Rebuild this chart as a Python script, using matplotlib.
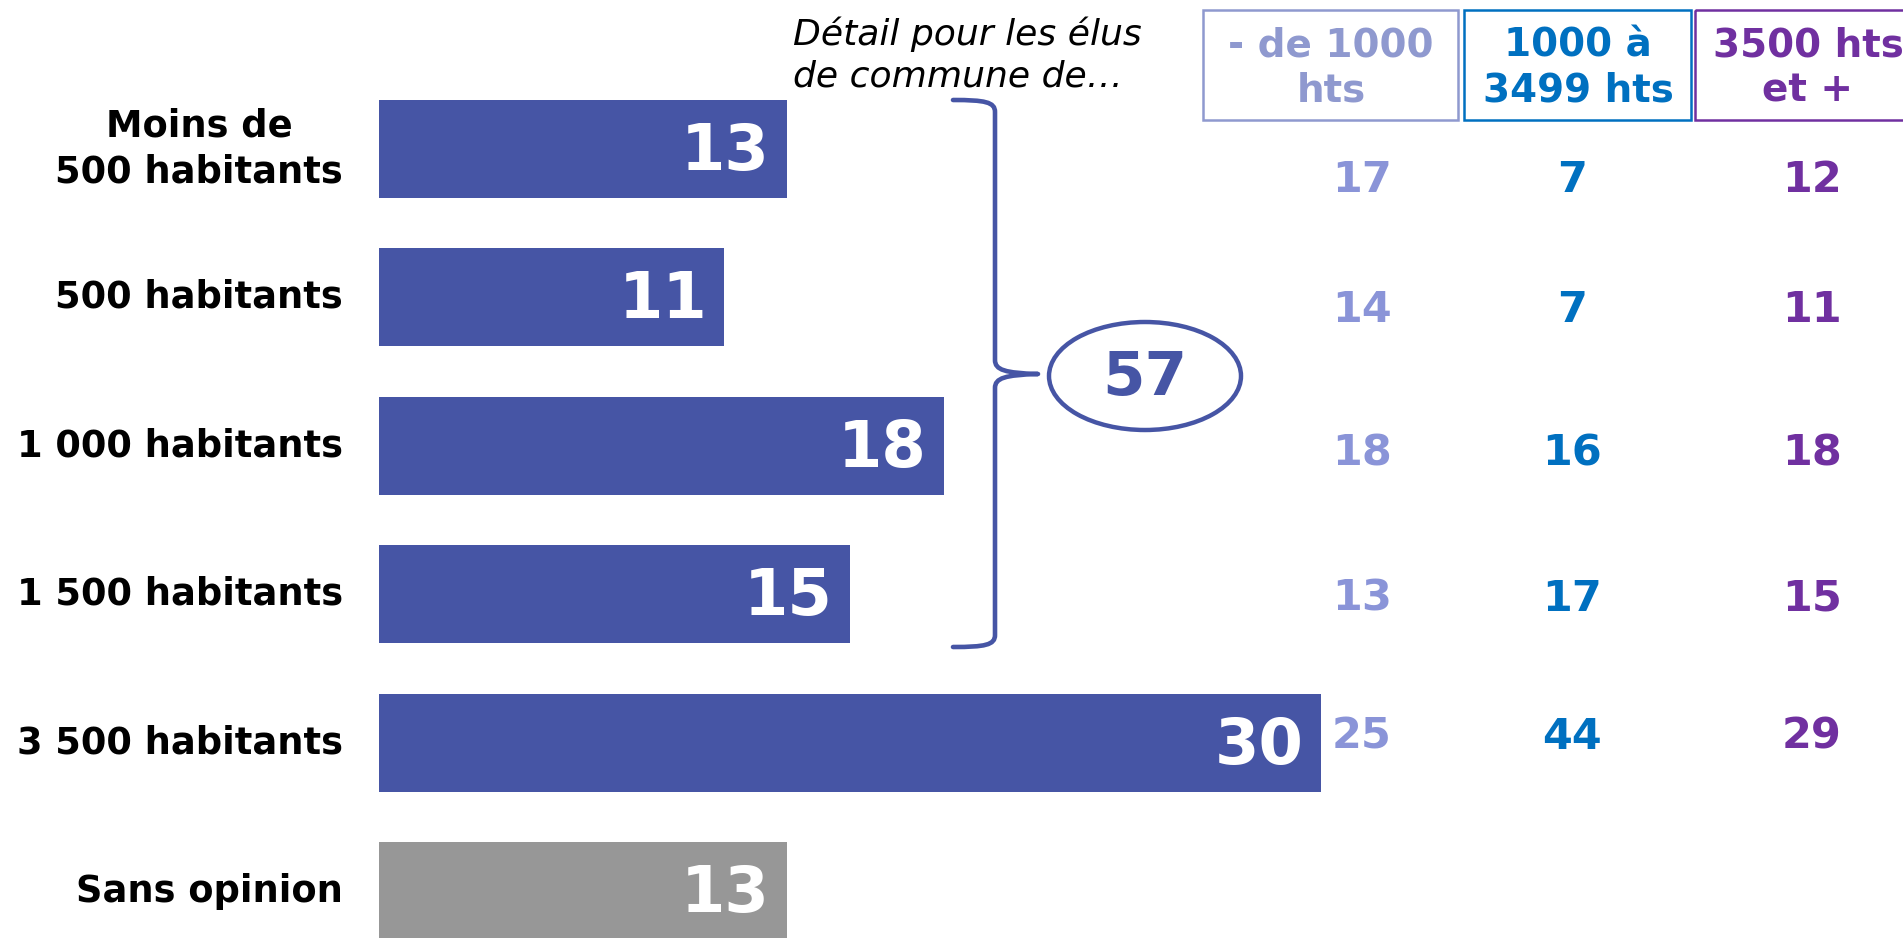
import matplotlib
matplotlib.use("Agg")
import matplotlib.pyplot as plt
from matplotlib.transforms import Affine2D, blended_transform_factory
from matplotlib.patches import Ellipse, Rectangle, PathPatch
from matplotlib.path import Path

# ---- data ----
categories = ["Moins de\n500 habitants", "500 habitants", "1 000 habitants",
              "1 500 habitants", "3 500 habitants", "Sans opinion"]
totals = [13, 11, 18, 15, 30, 13]
group_total = 57
headers = ["- de 1000\nhts", "1000 à\n3499 hts", "3500 hts\net +"]
detail_small = [17, 14, 18, 13, 25]
detail_mid = [7, 7, 16, 17, 44]
detail_large = [12, 11, 18, 15, 29]
note = "Détail pour les élus\nde commune de…"

# ---- style ----
BAR = "#4655A5"
GREY = "#979797"
C1 = "#8A94D8"
C1H = "#8F99CF"
C2 = "#0070C0"
C3 = "#7030A0"

W, H = 1903, 938
fig = plt.figure(figsize=(W / 100, H / 100), dpi=100)
ax = fig.add_axes([0, 0, 1, 1])
ax.set_axis_off()

x0, ppu = 379, 31.4          # bar origin (px) and pixels per unit
y0, pitch = 149, 148.4       # first bar centre (px) and row pitch
ax.set_xlim(-x0 / ppu, (W - x0) / ppu)
ax.set_ylim((H - y0) / pitch, -y0 / pitch)

# pixel transform (origin top-left)
T = Affine2D().scale(1 / W, -1 / H).translate(0, 1) + fig.transFigure
Txy = blended_transform_factory(T, ax.transData)

ypos = list(range(len(categories)))
colors = [BAR] * (len(categories) - 1) + [GREY]
ax.barh(ypos, totals, height=0.66, color=colors, left=0)

for y, v, lab in zip(ypos, totals, categories):
    ax.text(v - 0.55, y + 0.02, str(v), ha="right", va="center", color="white",
            fontsize=46, fontweight="bold")
    ax.text(343, y, lab, transform=Txy, ha="right", va="center",
            multialignment="center", fontsize=26.5, fontweight="bold",
            color="black", linespacing=1.3)

# detail columns
row_shift = [0.21, 0.085, 0.05, 0.03, -0.04]
col_x = [1362, 1572, 1812]
for xs, vals, c in zip(col_x, [detail_small, detail_mid, detail_large], [C1, C2, C3]):
    for i, v in enumerate(vals):
        ax.text(xs, i + row_shift[i], str(v), transform=Txy, ha="center",
                va="center", fontsize=31, fontweight="bold", color=c)

# header boxes
boxes = [(1203, 10, 255, 110, C1H), (1464, 10, 227, 110, C2), (1695, 10, 240, 110, C3)]
hx = [1331, 1578, 1808]
for (bx, by, bw, bh, c), t, tx in zip(boxes, headers, hx):
    ax.add_patch(Rectangle((bx, by), bw, bh, transform=T, fill=False,
                           edgecolor=c, lw=1.8, clip_on=False))
    ax.text(tx, 68, t, transform=T, ha="center", va="center", fontsize=28,
            fontweight="bold", color=c, linespacing=1.25)

# note
ax.text(793, 55, note, transform=T, ha="left", va="center", fontsize=26,
        style="italic", color="black", linespacing=1.3)

# brace
verts = [(953, 100), (985, 100), (995, 102), (995, 112),
         (995, 360),
         (995, 370), (1005, 373), (1038, 374),
         (1005, 375), (995, 378), (995, 388),
         (995, 635),
         (995, 645), (985, 647), (953, 647)]
codes = [Path.MOVETO, Path.CURVE4, Path.CURVE4, Path.CURVE4,
         Path.LINETO,
         Path.CURVE4, Path.CURVE4, Path.CURVE4,
         Path.CURVE4, Path.CURVE4, Path.CURVE4,
         Path.LINETO,
         Path.CURVE4, Path.CURVE4, Path.CURVE4]
ax.add_patch(PathPatch(Path(verts, codes), transform=T, fill=False,
                       edgecolor=BAR, lw=3.3, capstyle="round", joinstyle="round"))

ax.add_patch(Ellipse((1145, 376), 192, 108, transform=T, fill=False,
                     edgecolor=BAR, lw=3.2))
ax.text(1145, 378, str(group_total), transform=T, ha="center", va="center",
        fontsize=44, fontweight="bold", color=BAR)

fig.savefig("out.png", dpi=100)
